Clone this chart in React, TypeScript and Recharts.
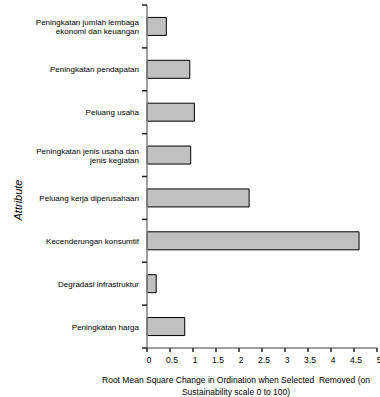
import React from "react";
import { BarChart, Bar, XAxis, YAxis } from "recharts";

// Leverage of each attribute (RMS change in ordination when removed)
const attributes = [
  "Peningkatan jumlah lembaga ekonomi dan keuangan",
  "Peningkatan pendapatan",
  "Peluang usaha",
  "Peningkatan jenis usaha dan jenis kegiatan",
  "Peluang kerja diperusahaan",
  "Kecenderungan konsumtif",
  "Degradasi infrastruktur",
  "Peningkatan harga",
];
const rmsChange = [0.42, 0.93, 1.03, 0.95, 2.22, 4.61, 0.2, 0.82];
const xTicks = [0, 0.5, 1, 1.5, 2, 2.5, 3, 3.5, 4, 4.5, 5];
const xTitle = [
  "Root Mean Square Change in Ordination when Selected  Removed (on",
  "Sustainability scale 0 to 100)",
];
const yTitle = "Attribute";

const data = attributes.map((attribute, i) => ({ attribute, value: rmsChange[i] }));

const FONT = "'Liberation Sans', Arial, sans-serif";
const PLOT_TOP = 5;
const PLOT_BOTTOM = 348;
const Y_AXIS_WIDTH = 147;

// Greedy word wrap for long category names
function wrap(text: string, maxChars: number): string[] {
  const words = text.split(" ");
  const lines: string[] = [];
  let cur = "";
  for (const w of words) {
    const next = cur ? cur + " " + w : w;
    if (next.length > maxChars && cur) {
      lines.push(cur);
      cur = w;
    } else {
      cur = next;
    }
  }
  if (cur) lines.push(cur);
  return lines;
}

// Category label plus the small tick marks on the band boundaries
const CategoryTick = (props: any) => {
  const { y, payload, index } = props;
  const count = attributes.length;
  const band = (PLOT_BOTTOM - PLOT_TOP) / count;
  const lines = wrap(String(payload.value), 27);
  const lh = 9;
  const start = -((lines.length - 1) * lh) / 2;
  const axisX = Y_AXIS_WIDTH;
  const top = Number(y) - band / 2;
  const bottom = Number(y) + band / 2;
  return (
    <g>
      <line x1={axisX - 5} x2={axisX} y1={top} y2={top} stroke="#222" strokeWidth={1.5} />
      {index === count - 1 ? (
        <line x1={axisX - 5} x2={axisX} y1={bottom} y2={bottom} stroke="#222" strokeWidth={1.5} />
      ) : null}
      <text x={axisX - 8} y={y} textAnchor="end" fontSize={8} fontFamily={FONT} fill="#000">
        {lines.map((l, i) => (
          <tspan key={i} x={axisX - 8} dy={i === 0 ? start + 3 : lh}>
            {l}
          </tspan>
        ))}
      </text>
    </g>
  );
};

const NumTick = (props: any) => {
  const { x, y, payload } = props;
  return (
    <text x={x + 2} y={y + 9} textAnchor="middle" fontSize={8.5} fontFamily={FONT} fill="#000">
      {payload.value}
    </text>
  );
};

export default function App() {
  return (
    <div style={{ position: "absolute", left: 0, top: 0, width: 380, height: 397, background: "#fff" }}>
      <BarChart
        width={380}
        height={397}
        data={data}
        layout="vertical"
        margin={{ top: PLOT_TOP, right: 3, bottom: 397 - PLOT_BOTTOM - 20, left: 0 }}
        barCategoryGap="29%"
      >
        <XAxis
          type="number"
          domain={[0, 5]}
          ticks={xTicks}
          interval={0}
          tickSize={4}
          tick={<NumTick />}
          axisLine={{ stroke: "#808080", strokeWidth: 1.5 }}
          tickLine={{ stroke: "#222", strokeWidth: 1.5 }}
          height={20}
        />
        <YAxis
          type="category"
          dataKey="attribute"
          width={Y_AXIS_WIDTH}
          axisLine={{ stroke: "#808080", strokeWidth: 1.5 }}
          tickLine={false}
          tickSize={0}
          interval={0}
          tick={<CategoryTick />}
        />
        <Bar
          dataKey="value"
          fill="#c0c0c0"
          stroke="#000"
          strokeWidth={1}
          isAnimationActive={false}
        />
      </BarChart>
      <svg
        width={380}
        height={397}
        style={{ position: "absolute", left: 0, top: 0, pointerEvents: "none" }}
      >
        <text
          x={0}
          y={0}
          transform="translate(22 200) rotate(-90)"
          textAnchor="middle"
          fontSize={11}
          fontStyle="italic"
          fontFamily={FONT}
          fill="#000"
        >
          {yTitle}
        </text>
        {xTitle.map((t, i) => (
          <text
            key={i}
            x={236}
            y={382.5 + i * 12}
            textAnchor="middle"
            fontSize={8.5}
            fontFamily={FONT}
            fill="#000"
            style={{ whiteSpace: "pre" }}
          >
            {t}
          </text>
        ))}
      </svg>
    </div>
  );
}
